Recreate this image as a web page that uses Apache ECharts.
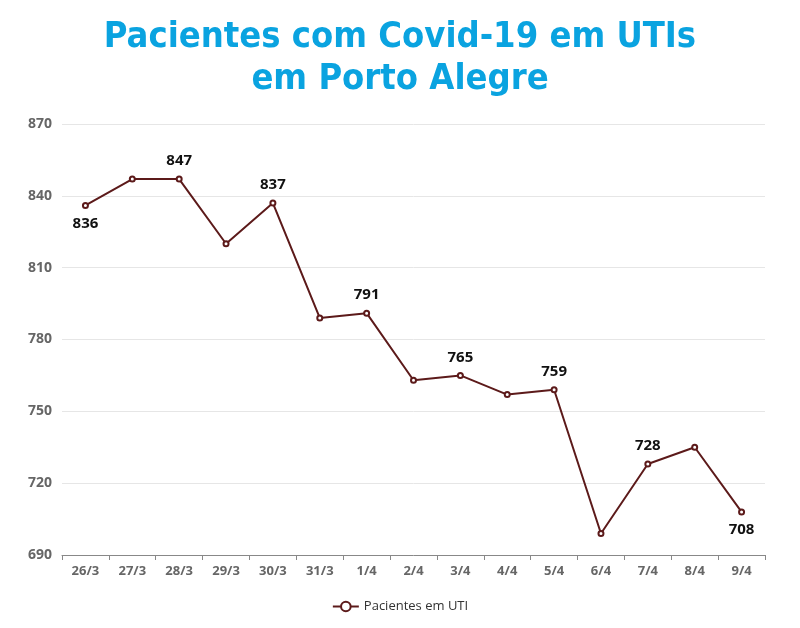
<!DOCTYPE html>
<html><head><meta charset="utf-8">
<script src="https://cdn.jsdelivr.net/npm/echarts@6/dist/echarts.min.js"></script>
<style>html,body{margin:0;padding:0;background:#fff}#c{width:800px;height:628px}</style>
</head><body><div id="c"></div>
<script>
var categories = ['26/3','27/3','28/3','29/3','30/3','31/3','1/4','2/4','3/4','4/4','5/4','6/4','7/4','8/4','9/4'];
var values = [836, 847, 847, 820, 837, 789, 791, 763, 765, 757, 759, 699, 728, 735, 708];
var labelShown = [1,0,1,0,1,0,1,0,1,0,1,0,1,0,1];
var labelBelow = [1,0,0,0,0,0,0,0,0,0,0,0,0,0,1];
var yTicks = [690, 720, 750, 780, 810, 840, 870];

var data = values.map(function(v,i){
  return {value:v, label:{show:!!labelShown[i], position: labelBelow[i]?'bottom':'top'}};
});
var chart = echarts.init(document.getElementById('c'));
chart.setOption({
  animation:false,
  title:{text:'Pacientes com Covid-19 em UTIs\nem Porto Alegre', left:'center', top:12,
    textStyle:{fontFamily:'DejaVu Sans Condensed', fontWeight:'bold', fontSize:36, color:'#0aa3e0', lineHeight:42}},
  grid:{left:62, right:35, top:124, bottom:73},
  legend:{bottom:10, itemWidth:26, itemHeight:12,
    textStyle:{fontFamily:'Open Sans', fontSize:13, color:'#333'}},
  xAxis:{type:'category', data:categories, boundaryGap:true,
    axisLine:{lineStyle:{color:'#888'}}, axisTick:{show:true, lineStyle:{color:'#888'}},
    axisLabel:{fontFamily:'Open Sans', fontWeight:'bold', fontSize:13, color:'#666', margin:10}},
  yAxis:{type:'value', min:yTicks[0], max:yTicks[yTicks.length-1], interval:30,
    axisLine:{show:false}, axisTick:{show:false},
    splitLine:{lineStyle:{color:'#e6e6e6'}},
    axisLabel:{fontFamily:'Open Sans', fontWeight:'bold', fontSize:14, color:'#666', margin:10}},
  series:[{name:'Pacientes em UTI', type:'line', data:data,
    symbol:'emptyCircle', symbolSize:5,
    lineStyle:{color:'#5c1a1a', width:2}, itemStyle:{color:'#5c1a1a', borderWidth:1.5},
    label:{fontFamily:'Open Sans', fontWeight:'bold', fontSize:15, color:'#111', distance:7}}]
});
</script></body></html>
